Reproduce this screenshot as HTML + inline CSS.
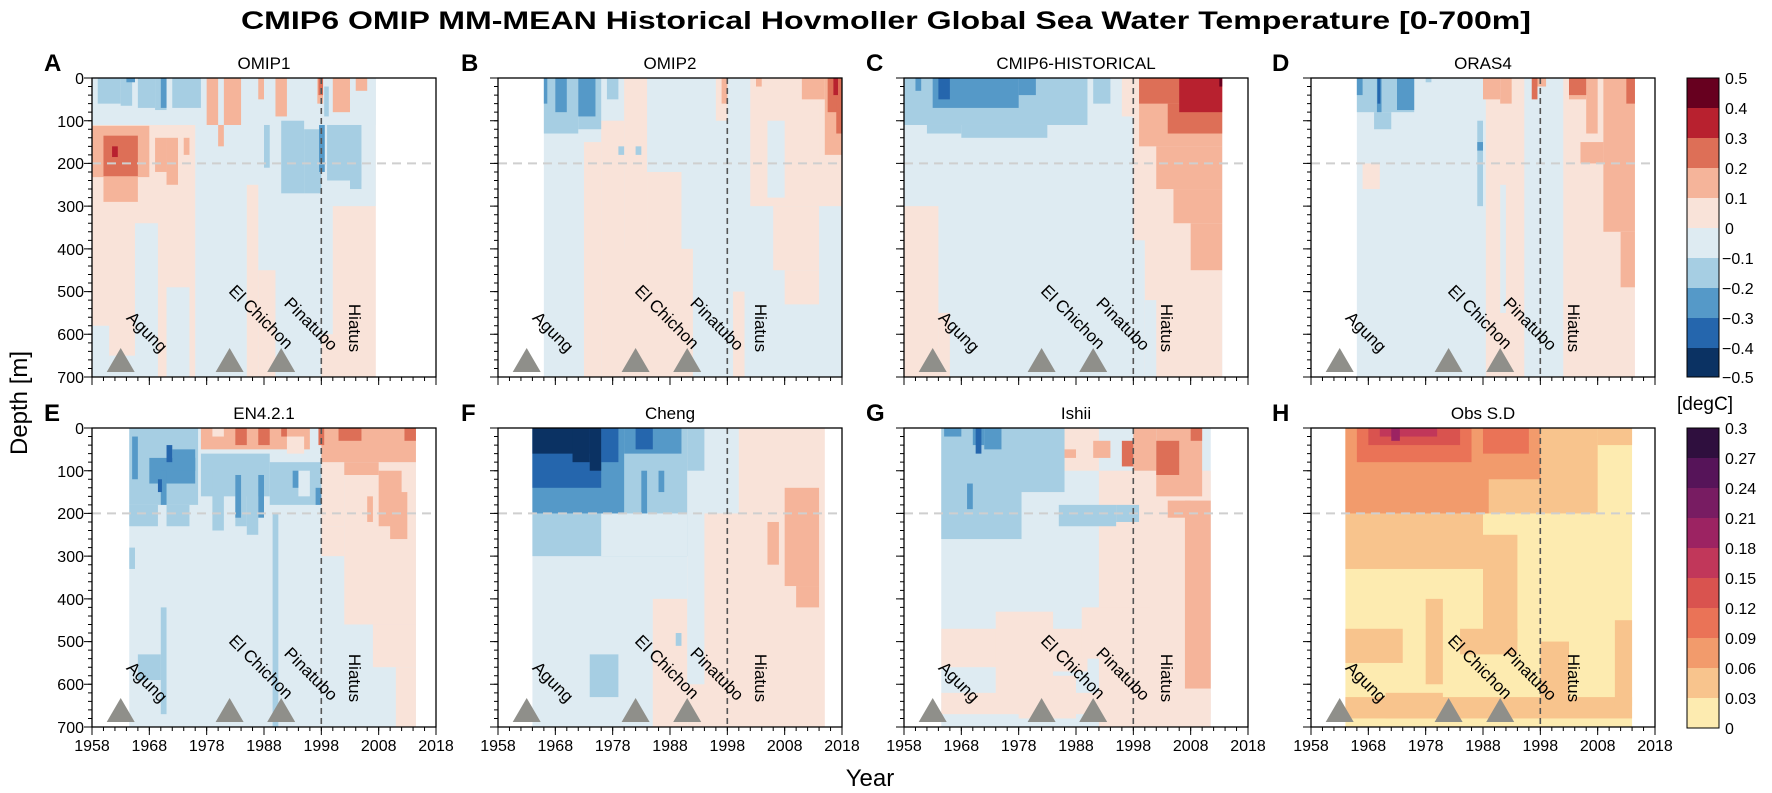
<!DOCTYPE html>
<html><head><meta charset="utf-8"><style>
body{margin:0;background:#fff}
svg{display:block;font-family:"Liberation Sans",Arial,sans-serif}
.b1{fill:#deebf2}.b2{fill:#a6cee3}.b3{fill:#5599c8}.b4{fill:#2566ad}.b5{fill:#0b3263}
.r1{fill:#f9e3d9}.r2{fill:#f5b49a}.r3{fill:#dd6f57}.r4{fill:#b8212f}.r5{fill:#67001f}
.o1{fill:#fdebb0}.o2{fill:#f8c48d}.o3{fill:#f29b6c}.o4{fill:#ea7357}.o5{fill:#d9534f}.o6{fill:#c1375a}.o7{fill:#9c2362}.o8{fill:#781c62}
.t{font-size:16px}
.lab{font-size:17px}
.L{font-size:24px;font-weight:bold}
</style></head><body>
<svg width="1772" height="793" viewBox="0 0 1772 793" xmlns="http://www.w3.org/2000/svg">
<defs>
<g id="ax">
  <line x1="-2" y1="-0.5" x2="-2" y2="300" stroke="#000" stroke-width="4" stroke-dasharray="1 7.543"/>
  <line x1="-4" y1="-0.5" x2="-4" y2="300" stroke="#000" stroke-width="8" stroke-dasharray="1 41.714"/>
  <line x1="-0.5" y1="301" x2="345" y2="301" stroke="#000" stroke-width="4" stroke-dasharray="1 10.467"/>
  <line x1="-0.5" y1="303" x2="345" y2="303" stroke="#000" stroke-width="8" stroke-dasharray="1 56.333"/>
  <line x1="0" y1="85.4" x2="344" y2="85.4" stroke="#cfcfcf" stroke-width="2" stroke-dasharray="9 6"/>
  <line x1="229.3" y1="0" x2="229.3" y2="299" stroke="#555" stroke-width="1.6" stroke-dasharray="6 4"/>
  <rect x="0" y="0" width="344" height="299" fill="none" stroke="#000" stroke-width="1.3"/>
  <polygon points="14.7,294 28.7,270 42.7,294" fill="#8f8f8a"/>
  <polygon points="123.6,294 137.6,270 151.6,294" fill="#8f8f8a"/>
  <polygon points="175.2,294 189.2,270 203.2,294" fill="#8f8f8a"/>
</g>
</defs>
<text x="886" y="29" text-anchor="middle" font-size="25" font-weight="bold" textLength="1290" lengthAdjust="spacingAndGlyphs">CMIP6 OMIP MM-MEAN Historical Hovmoller Global Sea Water Temperature [0-700m]</text>

<!-- Panel A -->
<g transform="translate(92,78) scale(5.7333,0.42714)">
<rect class="r1" x="0" y="0" width="49.5" height="700"/>
<rect class="b1" x="0" y="0" width="49.5" height="110"/>
<rect class="b1" x="18" y="0" width="22" height="700"/>
<rect class="b1" x="40" y="0" width="9.5" height="300"/>
<rect class="b1" x="40" y="300" width="2" height="300"/>
<rect class="b1" x="7.5" y="340" width="4" height="360"/>
<rect class="b1" x="0" y="580" width="3" height="120"/>
<rect class="b1" x="3" y="650" width="4.5" height="50"/>
<rect class="b1" x="13" y="490" width="4" height="210"/>
<rect class="r1" x="27" y="250" width="2" height="450"/>
<rect class="r1" x="29" y="450" width="3" height="250"/>
<rect class="b2" x="1" y="0" width="4" height="60"/><rect class="b2" x="5" y="0" width="2" height="65"/>
<rect class="b2" x="8" y="0" width="3" height="70"/><rect class="b2" x="11" y="0" width="2" height="75"/>
<rect class="b2" x="14" y="0" width="5" height="70"/>
<rect class="b2" x="33" y="100" width="4" height="170"/><rect class="b2" x="37" y="120" width="3" height="150"/>
<rect class="b2" x="41" y="110" width="6" height="130"/><rect class="b2" x="45" y="200" width="2" height="60"/>
<rect class="b2" x="30" y="110" width="1" height="100"/><rect class="b2" x="40.5" y="20" width="0.8" height="70"/>
<rect class="b3" x="12" y="0" width="1" height="70"/><rect class="b3" x="39.6" y="110" width="1" height="110"/><rect class="b3" x="6" y="0" width="1.5" height="10"/>
<rect class="r2" x="20" y="0" width="2" height="110"/><rect class="r2" x="23" y="0" width="3" height="110"/><rect class="r2" x="22" y="110" width="1" height="50"/>
<rect class="r2" x="29" y="0" width="1" height="50"/><rect class="r2" x="32" y="0" width="2" height="90"/><rect class="r2" x="42" y="0" width="3" height="80"/>
<rect class="r2" x="46" y="0" width="2" height="30"/><rect class="r2" x="39.3" y="0" width="1" height="60"/>
<rect class="r3" x="39.5" y="0" width="0.8" height="40"/>
<rect class="r2" x="0" y="112" width="10" height="120"/><rect class="r2" x="2" y="230" width="6" height="60"/>
<rect class="r2" x="11" y="140" width="2" height="80"/><rect class="r2" x="13" y="140" width="2" height="110"/><rect class="r2" x="16" y="140" width="1" height="40"/>
<rect class="r3" x="2" y="135" width="6" height="95"/><rect class="r4" x="3.5" y="160" width="1" height="25"/>
</g>

<!-- Panel B -->
<g transform="translate(498,78) scale(5.7333,0.42714)">
<rect class="b1" x="8" y="0" width="52" height="700"/>
<rect class="r1" x="15" y="150" width="3" height="550"/><rect class="r1" x="18" y="100" width="4" height="600"/>
<rect class="r1" x="22" y="0" width="4" height="700"/><rect class="r1" x="26" y="220" width="6" height="480"/>
<rect class="r1" x="20" y="400" width="14" height="300"/><rect class="r1" x="38" y="0" width="2" height="100"/>
<rect class="r1" x="44" y="0" width="16" height="300"/><rect class="r1" x="48" y="300" width="8" height="150"/>
<rect class="r1" x="50" y="450" width="6" height="80"/><rect class="r1" x="41" y="500" width="2" height="200"/>
<rect class="r1" x="56" y="0" width="4" height="200"/>
<rect class="b1" x="47" y="100" width="3" height="180"/>
<rect class="b2" x="8" y="0" width="6" height="130"/><rect class="b2" x="14" y="0" width="4" height="120"/>
<rect class="b2" x="19" y="0" width="2" height="50"/><rect class="b2" x="21" y="160" width="1" height="20"/><rect class="b2" x="24" y="160" width="1" height="20"/>
<rect class="b3" x="8" y="0" width="0.6" height="60"/><rect class="b3" x="10" y="0" width="2" height="80"/><rect class="b3" x="14" y="0" width="3" height="90"/>
<rect class="r2" x="57" y="0" width="3" height="180"/><rect class="r2" x="53" y="0" width="4" height="50"/>
<rect class="r2" x="39" y="0" width="1" height="60"/><rect class="r2" x="45" y="0" width="1" height="20"/>
<rect class="r3" x="57.5" y="0" width="2.5" height="80"/><rect class="r3" x="59" y="0" width="1" height="130"/>
<rect class="r4" x="58.5" y="0" width="0.8" height="40"/>
</g>

<!-- Panel C -->
<g transform="translate(904,78) scale(5.7333,0.42714)">
<rect class="b1" x="0" y="0" width="55.5" height="700"/>
<rect class="r1" x="0" y="300" width="6" height="400"/><rect class="r1" x="6" y="550" width="2" height="150"/>
<rect class="r1" x="38" y="0" width="2" height="90"/>
<rect class="r1" x="40" y="0" width="15.5" height="700"/>
<rect class="b1" x="40" y="380" width="2" height="320"/><rect class="b1" x="42" y="520" width="2" height="180"/>
<rect class="b2" x="0" y="0" width="32" height="110"/><rect class="b2" x="4" y="110" width="6" height="20"/>
<rect class="b2" x="10" y="110" width="15" height="30"/><rect class="b2" x="33" y="0" width="3" height="60"/>
<rect class="b3" x="5" y="0" width="15" height="70"/><rect class="b3" x="2" y="0" width="1" height="30"/><rect class="b3" x="20" y="0" width="3" height="40"/>
<rect class="b4" x="6" y="0" width="2" height="50"/>
<rect class="r2" x="41" y="0" width="14.5" height="160"/><rect class="r2" x="44" y="160" width="11.5" height="100"/>
<rect class="r2" x="47" y="260" width="8.5" height="80"/><rect class="r2" x="50" y="340" width="5.5" height="110"/>
<rect class="r3" x="41" y="0" width="14.5" height="60"/><rect class="r3" x="46" y="60" width="9.5" height="70"/>
<rect class="r4" x="48" y="0" width="7.5" height="80"/><rect class="r5" x="55" y="0" width="0.5" height="20"/>
</g>

<!-- Panel D -->
<g transform="translate(1311,78) scale(5.7333,0.42714)">
<rect class="b1" x="8" y="0" width="29" height="700"/>
<rect class="r1" x="30.5" y="0" width="7" height="700"/>
<rect class="b1" x="37.2" y="0" width="7" height="700"/>
<rect class="r1" x="44" y="0" width="12.5" height="700"/>
<rect class="r1" x="9" y="200" width="3" height="60"/><rect class="b1" x="33" y="250" width="1" height="300"/>
<rect class="b2" x="8" y="0" width="10" height="80"/><rect class="b2" x="11" y="80" width="3" height="40"/>
<rect class="b2" x="20" y="0" width="1" height="10"/><rect class="b2" x="29" y="100" width="1" height="200"/>
<rect class="b3" x="8" y="0" width="1" height="40"/><rect class="b3" x="11.5" y="0" width="0.8" height="80"/>
<rect class="b3" x="15" y="0" width="3" height="75"/><rect class="b3" x="29" y="150" width="1" height="20"/>
<rect class="b4" x="11.6" y="0" width="0.5" height="60"/>
<rect class="r2" x="30" y="0" width="3" height="50"/><rect class="r2" x="33" y="0" width="2" height="60"/>
<rect class="r2" x="39" y="0" width="2" height="20"/><rect class="r2" x="45" y="0" width="3" height="50"/>
<rect class="r2" x="48" y="0" width="2" height="130"/><rect class="r2" x="51" y="0" width="5.5" height="360"/>
<rect class="r2" x="47" y="150" width="4" height="50"/><rect class="r2" x="54" y="360" width="2.5" height="130"/>
<rect class="r3" x="45" y="0" width="3" height="40"/><rect class="r3" x="38.5" y="0" width="1" height="50"/><rect class="r3" x="55" y="0" width="1.5" height="60"/>
</g>

<!-- Panel E -->
<g transform="translate(92,428) scale(5.7333,0.42714)">
<rect class="b1" x="6.5" y="0" width="50" height="700"/>
<rect class="r1" x="40" y="230" width="4" height="70"/><rect class="r1" x="44" y="80" width="12.5" height="380"/>
<rect class="r1" x="49" y="460" width="7.5" height="100"/><rect class="r1" x="53" y="560" width="3.5" height="140"/>
<rect class="r1" x="40" y="80" width="4" height="150"/>
<rect class="r2" x="19" y="0" width="19" height="50"/><rect class="r2" x="40" y="0" width="16.5" height="80"/>
<rect class="r2" x="44" y="80" width="6" height="30"/><rect class="r2" x="50" y="100" width="4" height="130"/>
<rect class="r2" x="52" y="150" width="3" height="110"/><rect class="r2" x="48" y="160" width="1" height="60"/>
<rect class="r1" x="21" y="0" width="2" height="20"/><rect class="r1" x="34" y="20" width="3" height="40"/>
<rect class="r3" x="25" y="0" width="2" height="40"/><rect class="r3" x="29" y="0" width="2" height="40"/>
<rect class="r3" x="33" y="0" width="1" height="20"/><rect class="r3" x="43" y="0" width="4" height="30"/>
<rect class="r3" x="54.5" y="0" width="2" height="30"/><rect class="r3" x="39.5" y="0" width="1" height="40"/>
<rect class="b2" x="6.5" y="0" width="12" height="180"/><rect class="b2" x="6.5" y="180" width="5" height="50"/>
<rect class="b2" x="13" y="180" width="4" height="50"/><rect class="b2" x="19" y="60" width="12" height="100"/>
<rect class="b2" x="21" y="100" width="2" height="140"/><rect class="b2" x="25" y="110" width="2" height="120"/>
<rect class="b2" x="27" y="110" width="2" height="140"/><rect class="b2" x="31" y="80" width="9" height="100"/>
<rect class="b1" x="36" y="100" width="2" height="60"/>
<rect class="b2" x="6.5" y="280" width="1" height="50"/><rect class="b2" x="12" y="420" width="1" height="250"/>
<rect class="b2" x="8" y="530" width="4" height="60"/><rect class="b2" x="31.5" y="200" width="1" height="500"/>
<rect class="b3" x="7" y="20" width="1" height="100"/><rect class="b3" x="10" y="70" width="8" height="60"/>
<rect class="b3" x="14" y="50" width="4" height="50"/><rect class="b3" x="12" y="100" width="1" height="80"/>
<rect class="b3" x="25" y="110" width="1" height="100"/><rect class="b3" x="29" y="110" width="1" height="100"/>
<rect class="b3" x="35" y="100" width="1" height="40"/><rect class="b3" x="39" y="140" width="1" height="40"/>
<rect class="b4" x="11.5" y="120" width="0.7" height="30"/><rect class="b4" x="13" y="40" width="1" height="40"/>
</g>

<!-- Panel F -->
<g transform="translate(498,428) scale(5.7333,0.42714)">
<rect class="b1" x="6" y="0" width="27" height="700"/>
<rect class="r1" x="33" y="0" width="24" height="700"/>
<rect class="r1" x="27" y="400" width="6" height="300"/>
<rect class="b1" x="33" y="0" width="9" height="200"/><rect class="b1" x="33" y="200" width="3" height="400"/>
<rect class="b2" x="6" y="0" width="27" height="300"/><rect class="b2" x="33" y="0" width="3" height="100"/>
<rect class="b1" x="18" y="200" width="15" height="100"/>
<rect class="b2" x="16" y="530" width="5" height="100"/><rect class="b2" x="31" y="480" width="1" height="30"/>
<rect class="b3" x="6" y="0" width="16" height="200"/><rect class="b3" x="22" y="0" width="10" height="60"/>
<rect class="b3" x="25" y="100" width="1" height="100"/><rect class="b3" x="28" y="100" width="1" height="50"/>
<rect class="b4" x="6" y="0" width="12" height="140"/><rect class="b4" x="18" y="0" width="3" height="80"/><rect class="b4" x="24" y="0" width="3" height="50"/>
<rect class="b5" x="6" y="0" width="10" height="60"/><rect class="b5" x="13" y="0" width="3" height="80"/><rect class="b5" x="16" y="0" width="2" height="100"/>
<rect class="r2" x="50" y="140" width="6" height="230"/><rect class="r2" x="47" y="220" width="2" height="100"/><rect class="r2" x="52" y="370" width="4" height="50"/>
</g>

<!-- Panel G -->
<g transform="translate(904,428) scale(5.7333,0.42714)">
<rect class="b1" x="6.5" y="0" width="47" height="700"/>
<rect class="r1" x="6.5" y="470" width="10" height="90"/><rect class="r1" x="16" y="430" width="10" height="200"/>
<rect class="r1" x="26" y="470" width="6" height="100"/><rect class="r1" x="34" y="100" width="19.5" height="600"/>
<rect class="r1" x="20" y="580" width="10" height="100"/><rect class="r1" x="6.5" y="620" width="47" height="50"/>
<rect class="r1" x="31" y="420" width="12" height="120"/><rect class="r1" x="22" y="0" width="12" height="100"/>
<rect class="b2" x="6.5" y="0" width="14" height="260"/><rect class="b2" x="20" y="0" width="8" height="150"/>
<rect class="b2" x="27" y="180" width="10" height="50"/><rect class="b2" x="37" y="180" width="4" height="40"/>
<rect class="b3" x="7" y="0" width="3" height="20"/><rect class="b3" x="12" y="0" width="2" height="40"/>
<rect class="b3" x="14" y="0" width="3" height="50"/><rect class="b3" x="11" y="130" width="1" height="60"/>
<rect class="b4" x="12.5" y="0" width="1" height="60"/>
<rect class="r2" x="40" y="0" width="4" height="100"/><rect class="r2" x="44" y="0" width="8" height="160"/>
<rect class="r2" x="49" y="170" width="4.5" height="440"/><rect class="r2" x="46" y="170" width="4" height="40"/>
<rect class="r2" x="28" y="50" width="2" height="20"/><rect class="r2" x="33" y="30" width="3" height="40"/>
<rect class="r3" x="38" y="30" width="2" height="60"/><rect class="r3" x="44" y="30" width="4" height="80"/><rect class="r3" x="50" y="0" width="2" height="30"/>
</g>

<!-- Panel H -->
<g transform="translate(1311,428) scale(5.7333,0.42714)">
<rect class="o1" x="6" y="0" width="50" height="700"/>
<rect class="o2" x="6" y="0" width="24" height="330"/><rect class="o2" x="30" y="0" width="20" height="200"/>
<rect class="o2" x="50" y="0" width="6" height="40"/><rect class="o2" x="6" y="470" width="10" height="80"/>
<rect class="o2" x="20" y="400" width="3" height="200"/><rect class="o2" x="26" y="470" width="10" height="60"/>
<rect class="o2" x="13" y="620" width="10" height="60"/><rect class="o2" x="6" y="630" width="50" height="50"/>
<rect class="o2" x="53" y="450" width="3" height="200"/><rect class="o2" x="30" y="250" width="6" height="250"/>
<rect class="o2" x="40" y="500" width="5" height="150"/>
<rect class="o3" x="6" y="0" width="25" height="200"/><rect class="o3" x="30" y="0" width="10" height="120"/>
<rect class="o4" x="8" y="0" width="20" height="80"/><rect class="o4" x="30" y="0" width="8" height="60"/>
<rect class="o5" x="10" y="0" width="16" height="40"/><rect class="o6" x="12" y="0" width="10" height="20"/>
<rect class="o7" x="14" y="0" width="1.5" height="30"/>
</g>

<!-- axes overlays -->
<use href="#ax" x="92" y="78"/><use href="#ax" x="498" y="78"/><use href="#ax" x="904" y="78"/><use href="#ax" x="1311" y="78"/>
<use href="#ax" x="92" y="428"/><use href="#ax" x="498" y="428"/><use href="#ax" x="904" y="428"/><use href="#ax" x="1311" y="428"/>

<!-- panel titles -->
<g class="lab" text-anchor="middle">
<text x="264" y="69">OMIP1</text><text x="670" y="69">OMIP2</text><text x="1076" y="69">CMIP6-HISTORICAL</text><text x="1483" y="69">ORAS4</text>
<text x="264" y="419">EN4.2.1</text><text x="670" y="419">Cheng</text><text x="1076" y="419">Ishii</text><text x="1483" y="419">Obs S.D</text>
</g>
<g class="L">
<text x="44" y="71">A</text><text x="461" y="71">B</text><text x="866" y="71">C</text><text x="1272" y="71">D</text>
<text x="44" y="421">E</text><text x="461" y="421">F</text><text x="866" y="421">G</text><text x="1272" y="421">H</text>
</g>

<!-- y tick labels -->
<g class="t" text-anchor="end">
<text x="84" y="84">0</text><text x="84" y="127">100</text><text x="84" y="169">200</text><text x="84" y="212">300</text><text x="84" y="255">400</text><text x="84" y="297">500</text><text x="84" y="340">600</text><text x="84" y="383">700</text>
<text x="84" y="434">0</text><text x="84" y="477">100</text><text x="84" y="519">200</text><text x="84" y="562">300</text><text x="84" y="605">400</text><text x="84" y="647">500</text><text x="84" y="690">600</text><text x="84" y="733">700</text>
</g>

<!-- x tick labels -->
<g class="t" text-anchor="middle">
<text x="92" y="751">1958</text><text x="149.3" y="751">1968</text><text x="206.7" y="751">1978</text><text x="264" y="751">1988</text><text x="321.3" y="751">1998</text><text x="378.7" y="751">2008</text><text x="436" y="751">2018</text>
<text x="498" y="751">1958</text><text x="555.3" y="751">1968</text><text x="612.7" y="751">1978</text><text x="670" y="751">1988</text><text x="727.3" y="751">1998</text><text x="784.7" y="751">2008</text><text x="842" y="751">2018</text>
<text x="904" y="751">1958</text><text x="961.3" y="751">1968</text><text x="1018.7" y="751">1978</text><text x="1076" y="751">1988</text><text x="1133.3" y="751">1998</text><text x="1190.7" y="751">2008</text><text x="1248" y="751">2018</text>
<text x="1311" y="751">1958</text><text x="1368.3" y="751">1968</text><text x="1425.7" y="751">1978</text><text x="1483" y="751">1988</text><text x="1540.3" y="751">1998</text><text x="1597.7" y="751">2008</text><text x="1655" y="751">2018</text>
</g>
<text x="870" y="786" text-anchor="middle" font-size="24">Year</text>
<text transform="translate(27,403) rotate(-90)" text-anchor="middle" font-size="24">Depth [m]</text>

<!-- event labels -->
<g class="lab" text-anchor="middle">
<text transform="translate(143,336) rotate(45)">Agung</text>
<text transform="translate(257,321) rotate(45)">El Chichon</text>
<text transform="translate(307,328) rotate(45)">Pinatubo</text>
<text transform="translate(349,328) rotate(90)">Hiatus</text>
<text transform="translate(549,336) rotate(45)">Agung</text>
<text transform="translate(663,321) rotate(45)">El Chichon</text>
<text transform="translate(713,328) rotate(45)">Pinatubo</text>
<text transform="translate(755,328) rotate(90)">Hiatus</text>
<text transform="translate(955,336) rotate(45)">Agung</text>
<text transform="translate(1069,321) rotate(45)">El Chichon</text>
<text transform="translate(1119,328) rotate(45)">Pinatubo</text>
<text transform="translate(1161,328) rotate(90)">Hiatus</text>
<text transform="translate(1362,336) rotate(45)">Agung</text>
<text transform="translate(1476,321) rotate(45)">El Chichon</text>
<text transform="translate(1526,328) rotate(45)">Pinatubo</text>
<text transform="translate(1568,328) rotate(90)">Hiatus</text>
<text transform="translate(143,686) rotate(45)">Agung</text>
<text transform="translate(257,671) rotate(45)">El Chichon</text>
<text transform="translate(307,678) rotate(45)">Pinatubo</text>
<text transform="translate(349,678) rotate(90)">Hiatus</text>
<text transform="translate(549,686) rotate(45)">Agung</text>
<text transform="translate(663,671) rotate(45)">El Chichon</text>
<text transform="translate(713,678) rotate(45)">Pinatubo</text>
<text transform="translate(755,678) rotate(90)">Hiatus</text>
<text transform="translate(955,686) rotate(45)">Agung</text>
<text transform="translate(1069,671) rotate(45)">El Chichon</text>
<text transform="translate(1119,678) rotate(45)">Pinatubo</text>
<text transform="translate(1161,678) rotate(90)">Hiatus</text>
<text transform="translate(1362,686) rotate(45)">Agung</text>
<text transform="translate(1476,671) rotate(45)">El Chichon</text>
<text transform="translate(1526,678) rotate(45)">Pinatubo</text>
<text transform="translate(1568,678) rotate(90)">Hiatus</text>
</g>

<!-- colorbar 1 -->
<g>
<rect x="1687" y="78" width="32" height="30" fill="#67001f"/>
<rect x="1687" y="108" width="32" height="30" fill="#b8212f"/>
<rect x="1687" y="138" width="32" height="30" fill="#dd6f57"/>
<rect x="1687" y="168" width="32" height="30" fill="#f5b49a"/>
<rect x="1687" y="198" width="32" height="30" fill="#f9e3d9"/>
<rect x="1687" y="228" width="32" height="30" fill="#deebf2"/>
<rect x="1687" y="258" width="32" height="30" fill="#a6cee3"/>
<rect x="1687" y="288" width="32" height="30" fill="#5599c8"/>
<rect x="1687" y="318" width="32" height="30" fill="#2566ad"/>
<rect x="1687" y="348" width="32" height="29" fill="#0b3263"/>
<rect x="1687" y="78" width="32" height="299" fill="none" stroke="#000" stroke-width="1"/>
</g>
<g class="t">
<text x="1725" y="84">0.5</text><text x="1725" y="114">0.4</text><text x="1725" y="144">0.3</text><text x="1725" y="174">0.2</text><text x="1725" y="204">0.1</text><text x="1725" y="234">0</text>
<text x="1722" y="264">−0.1</text><text x="1722" y="294">−0.2</text><text x="1722" y="324">−0.3</text><text x="1722" y="354">−0.4</text><text x="1722" y="383">−0.5</text>
</g>
<text x="1705" y="410" text-anchor="middle" font-size="19">[degC]</text>
<!-- colorbar 2 -->
<g>
<rect x="1687" y="428" width="32" height="30" fill="#2f0f3e"/>
<rect x="1687" y="458" width="32" height="30" fill="#561459"/>
<rect x="1687" y="488" width="32" height="30" fill="#781c62"/>
<rect x="1687" y="518" width="32" height="30" fill="#9c2362"/>
<rect x="1687" y="548" width="32" height="30" fill="#c1375a"/>
<rect x="1687" y="578" width="32" height="30" fill="#d9534f"/>
<rect x="1687" y="608" width="32" height="30" fill="#ea7357"/>
<rect x="1687" y="638" width="32" height="30" fill="#f29b6c"/>
<rect x="1687" y="668" width="32" height="30" fill="#f8c48d"/>
<rect x="1687" y="698" width="32" height="30" fill="#fdebb0"/>
<rect x="1687" y="428" width="32" height="300" fill="none" stroke="#000" stroke-width="1"/>
</g>
<g class="t">
<text x="1725" y="434">0.3</text><text x="1725" y="464">0.27</text><text x="1725" y="494">0.24</text><text x="1725" y="524">0.21</text><text x="1725" y="554">0.18</text><text x="1725" y="584">0.15</text>
<text x="1725" y="614">0.12</text><text x="1725" y="644">0.09</text><text x="1725" y="674">0.06</text><text x="1725" y="704">0.03</text><text x="1725" y="734">0</text>
</g>
</svg>
</body></html>
